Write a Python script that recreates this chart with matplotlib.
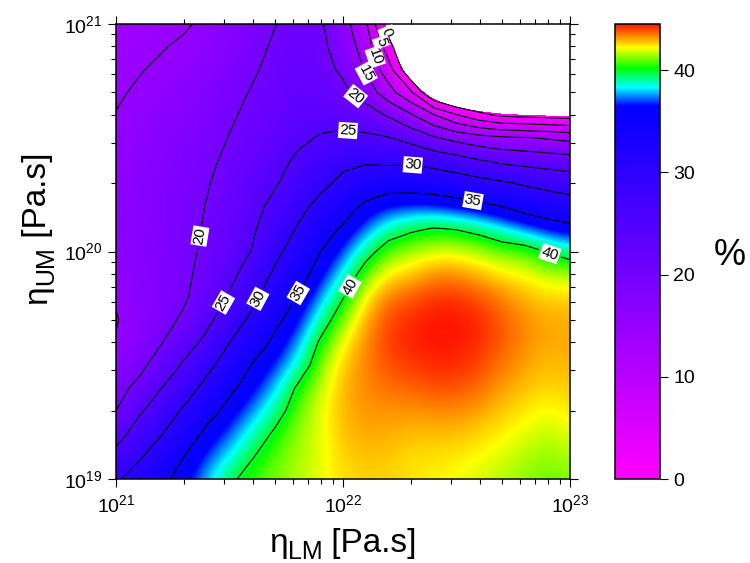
import numpy as np
import matplotlib
matplotlib.use('Agg')
import matplotlib.pyplot as plt
from matplotlib.colors import LinearSegmentedColormap

plt.rcParams['font.family'] = ['Liberation Sans', 'DejaVu Sans']
plt.rcParams['mathtext.fontset'] = 'custom'
plt.rcParams['mathtext.rm'] = 'Liberation Sans'

# log10 of viscosities on the grid
log_lm = np.linspace(21.0, 23.0, 21)
log_um = np.linspace(19.0, 21.0, 21)

# % values, one list per eta_LM column, read from top (1e21) to bottom (1e19)
c00 = [13.0, 13.8, 14.2, 14.6, 15.1, 15.4, 15.7, 16.0, 16.2, 16.3, 16.2, 15.8, 15.3, 14.8, 15.2, 16.6, 18.2, 20.0, 23.2, 26.3, 29.5]
c01 = [13.6, 14.2, 14.8, 15.4, 15.9, 16.3, 16.6, 16.9, 17.1, 17.2, 17.2, 17.0, 16.7, 16.5, 16.9, 18.6, 21.3, 24.3, 26.9, 29.5, 31.7]
c02 = [14.1, 14.8, 15.5, 16.1, 16.7, 17.2, 17.6, 17.9, 18.1, 18.2, 18.3, 18.3, 18.4, 18.7, 19.8, 22.4, 25.0, 27.4, 29.8, 32.1, 34.2]
c03 = [14.6, 15.5, 16.2, 16.9, 17.5, 18.0, 18.4, 18.7, 19.0, 19.1, 19.3, 19.4, 19.5, 20.6, 23.1, 25.6, 28.0, 30.6, 32.8, 35.0, 36.2]
c04 = [15.7, 16.3, 17.0, 17.7, 18.4, 19.0, 19.4, 19.8, 20.1, 20.3, 20.5, 21.0, 22.1, 23.9, 26.1, 28.8, 31.3, 33.7, 35.8, 36.9, 37.9]
c05 = [17.1, 17.7, 18.4, 19.1, 19.6, 20.1, 20.6, 21.1, 21.6, 22.1, 22.7, 23.8, 25.4, 27.7, 30.0, 32.2, 34.4, 36.0, 37.1, 38.3, 39.7]
c06 = [18.5, 19.1, 19.6, 20.2, 20.7, 21.5, 22.3, 23.1, 23.7, 24.4, 25.2, 27.2, 29.0, 30.9, 33.0, 35.2, 36.3, 37.5, 38.7, 39.9, 40.6]
c07 = [19.9, 20.4, 20.9, 21.4, 21.9, 22.8, 23.7, 24.6, 26.1, 27.6, 29.0, 30.7, 32.4, 34.3, 35.7, 36.8, 37.9, 39.1, 40.3, 40.8, 41.2]
c08 = [21.3, 21.5, 22.0, 22.6, 23.3, 24.2, 25.6, 27.1, 28.7, 30.3, 31.9, 33.6, 35.2, 36.4, 37.5, 38.6, 40.3, 41.0, 41.3, 41.5, 41.6]
c09 = [20.5, 21.0, 21.6, 22.5, 23.6, 25.3, 27.0, 28.9, 31.2, 33.2, 35.0, 36.3, 37.6, 38.9, 40.3, 41.2, 41.7, 42.0, 42.0, 42.0, 42.0]
c10 = [16.9, 18.0, 19.2, 21.0, 23.3, 25.9, 28.9, 31.1, 33.2, 35.5, 37.0, 38.4, 39.9, 41.2, 42.2, 42.7, 42.9, 42.9, 42.8, 42.6, 42.5]
c11 = [10.8, 12.8, 14.6, 17.9, 22.2, 25.8, 29.4, 32.6, 35.7, 37.3, 39.2, 41.0, 42.3, 43.0, 43.3, 43.4, 43.3, 43.2, 43.0, 42.8, 42.6]
c12 = [-3.0, 2.4, 7.1, 12.0, 19.5, 25.2, 28.9, 33.7, 36.6, 38.9, 41.0, 42.4, 43.5, 44.0, 44.1, 43.9, 43.6, 43.2, 43.0, 42.7, 42.6]
c13 = [-10, -9, -5, 5.6, 15.5, 23.4, 29.2, 33.6, 36.9, 39.7, 41.5, 42.7, 43.8, 44.3, 44.4, 44.1, 43.7, 43.2, 42.8, 42.5, 42.4]
c14 = [-10, -10, -10, -6, 10.3, 20.5, 28.3, 33.2, 36.9, 40.1, 42.0, 43.3, 44.2, 44.5, 44.5, 44.3, 43.9, 43.3, 42.8, 42.5, 42.3]
c15 = [-10, -10, -10, -10, 5.3, 18.4, 27.0, 32.5, 36.4, 39.9, 42.0, 43.3, 44.2, 44.5, 44.5, 44.3, 43.9, 43.3, 42.8, 42.4, 42.1]
c16 = [-10, -10, -10, -10, 1.4, 16.8, 25.3, 31.6, 35.8, 39.4, 41.6, 42.9, 43.9, 44.3, 44.3, 44.0, 43.6, 43.1, 42.6, 42.2, 41.9]
c17 = [-10, -10, -10, -8, -1.0, 15.7, 24.0, 30.6, 34.9, 38.5, 41.1, 42.4, 43.4, 43.8, 43.8, 43.5, 43.1, 42.7, 42.3, 41.9, 41.6]
c18 = [-10, -10, -10, -8, -1.5, 15.2, 23.4, 29.5, 33.8, 37.6, 40.9, 42.2, 42.9, 43.3, 43.3, 43.1, 42.8, 42.4, 42.0, 41.6, 41.3]
c19 = [-10, -10, -10, -8, -2.0, 14.5, 22.8, 28.6, 32.9, 36.6, 39.9, 41.7, 42.6, 43.0, 43.0, 42.8, 42.5, 42.1, 41.7, 41.3, 41.0]
c20 = [-10, -10, -10, -8, -2.5, 13.6, 22.2, 27.9, 32.1, 35.9, 39.1, 41.6, 42.6, 43.0, 43.0, 42.9, 42.7, 42.4, 42.0, 41.6, 41.2]

levels = [0, 5, 10, 15, 20, 25, 30, 35, 40]
cbar_ticks = [0, 10, 20, 30, 40]

# rows: eta_UM ascending
Z = np.array([c00, c01, c02, c03, c04, c05, c06, c07, c08, c09, c10,
              c11, c12, c13, c14, c15, c16, c17, c18, c19, c20]).T[::-1]

vmax = 44.5
nodes = [(0.0, (1, 0, 1)), (36.5, (0, 0, 1)), (38.3, (0, 1, 1)),
         (40.2, (0, 1, 0)), (42.2, (1, 1, 0)), (43.3, (1, 0.55, 0)),
         (vmax, (1, 0.08, 0))]
cmap = LinearSegmentedColormap.from_list('rb', [(v / vmax, c) for v, c in nodes], N=2048)
cmap.set_under('white')

W, H = 750, 563
fig = plt.figure(figsize=(7.5, 5.63), dpi=100)
ax = fig.add_axes([116 / W, 84 / H, 454 / W, 455 / H])

h = 0.05
im = ax.imshow(Z, origin='lower', extent=[21 - h, 23 + h, 19 - h, 21 + h],
               cmap=cmap, vmin=0, vmax=vmax, interpolation='bicubic', aspect='auto')
cs = ax.contour(log_lm, log_um, Z, levels=levels, colors='k', linewidths=0.8)
ax.set_xlim(21, 23)
ax.set_ylim(19, 21)

# label positions (log10 coords)
spots = [(22.194, 20.965), (22.172, 20.921), (22.141, 20.855), (22.106, 20.785),
         (22.053, 20.679), (22.022, 20.534), (22.308, 20.385), (22.573, 20.226),
         (22.912, 19.993), (21.392, 20.064), (21.476, 19.774), (21.634, 19.787),
         (21.802, 19.818), (22.035, 19.844)]
txts = ax.clabel(cs, fmt='%d', fontsize=11, inline=True, inline_spacing=3, manual=spots)
for t in txts:
    t.set_bbox(dict(facecolor='white', edgecolor='none', pad=0.8))

ax.set_xticks([21, 22, 23])
ax.set_xticklabels([r'$\mathregular{10^{21}}$', r'$\mathregular{10^{22}}$', r'$\mathregular{10^{23}}$'])
ax.set_yticks([19, 20, 21])
ax.set_yticklabels([r'$\mathregular{10^{19}}$', r'$\mathregular{10^{20}}$', r'$\mathregular{10^{21}}$'])
ax.set_xticks([n + np.log10(k) for n in (21, 22) for k in range(2, 10)], minor=True)
ax.set_yticks([n + np.log10(k) for n in (19, 20) for k in range(2, 10)], minor=True)
ax.tick_params(which='both', direction='out', top=True, right=True, width=0.8)
ax.tick_params(which='major', length=6, labelsize=14)
ax.tick_params(axis='x', which='major', pad=5)
ax.tick_params(axis='y', which='major', pad=4)
ax.tick_params(which='minor', length=3.5)
for s in ax.spines.values():
    s.set_linewidth(1.1)

cax = fig.add_axes([615 / W, 84 / H, 45 / W, 455 / H])
cb = fig.colorbar(im, cax=cax, ticks=cbar_ticks)
cb.ax.tick_params(direction='out', length=6, width=0.8, labelsize=14)
cb.outline.set_linewidth(1.1)
fig.text(730 / W, 1 - 255 / H, '%', fontsize=26, ha='center', va='center')


# axis titles: eta with a large subscript, then units
def title(parts, centre, base, vertical=False):
    r = fig.canvas.get_renderer()
    items = []
    for s, size, shift in parts:
        t = fig.text(0, 0, s, fontsize=size, rotation=90 if vertical else 0,
                     rotation_mode='anchor', ha='left', va='baseline')
        bb = t.get_window_extent(r)
        items.append((t, bb.height if vertical else bb.width, shift))
    total = sum(w for _, w, _ in items)
    if vertical:
        pos = centre + total / 2
        for t, w, shift in items:
            t.set_position(((base + shift) / W, 1 - pos / H))
            pos -= w
    else:
        pos = centre - total / 2
        for t, w, shift in items:
            t.set_position((pos / W, 1 - (base + shift) / H))
            pos += w


title([('η', 24, 0), ('LM', 18, 7), (' [Pa.s]', 24, 0)], 343, 552)
title([('η', 24, 0), ('UM', 18, 7), (' [Pa.s]', 24, 0)], 228, 46, vertical=True)

fig.savefig('out.png', dpi=100)
